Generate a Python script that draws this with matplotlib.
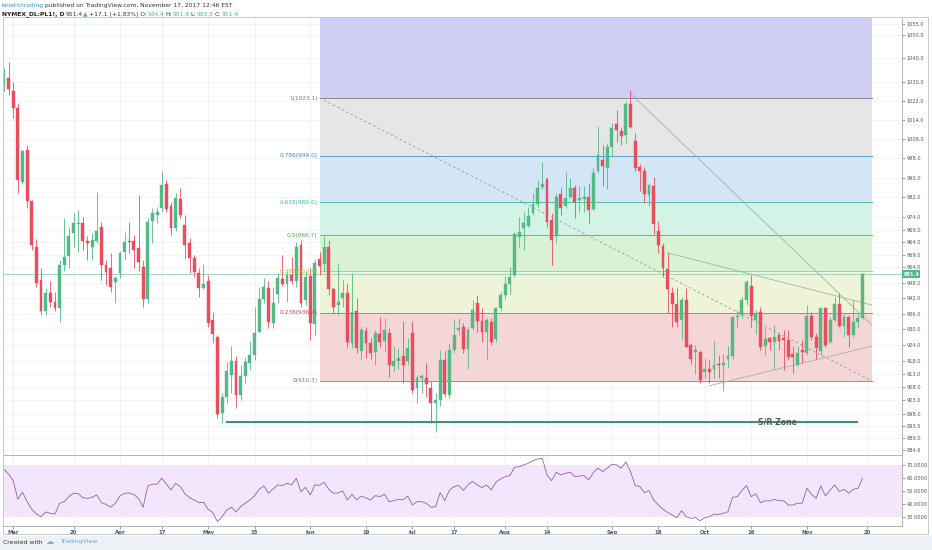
import numpy as np
import pandas as pd
import matplotlib
matplotlib.use('Agg')
import matplotlib.pyplot as plt
from matplotlib.ticker import FixedLocator, NullLocator, FixedFormatter
from matplotlib.patches import Rectangle

# trading days (NYMEX holidays removed)
holidays = ['2017-04-14', '2017-05-29', '2017-07-04', '2017-09-04']
dates = pd.bdate_range('2017-02-27', '2017-12-01', freq='C', holidays=holidays)

opens = [1028.6, 1031.6, 1026.1, 1019.0, 988.2, 1001.4, 980.5, 962.1, 949.1, 937.0,
         944.0, 940.5, 938.2, 955.0, 958.5, 967.6, 971.3, 971.7, 964.5, 962.1,
         964.5, 969.9, 955.0, 953.8, 948.3, 951.6, 960.1, 964.5, 964.5, 961.7,
         954.2, 941.7, 972.5, 974.9, 977.7, 987.4, 978.5, 969.5, 981.3, 970.7,
         963.7, 957.8, 951.6, 946.0, 948.7, 933.6, 926.9, 898.4, 904.4, 912.7,
         917.9, 905.1, 912.3, 916.9, 920.2, 928.9, 941.7, 946.0, 932.4, 943.6,
         949.5, 947.5, 951.2, 948.7, 962.9, 941.3, 950.8, 932.0, 957.4, 955.4,
         962.1, 945.6, 939.4, 942.1, 944.0, 924.7, 937.0, 921.7, 929.3, 924.7,
         921.3, 928.1, 925.5, 928.5, 916.1, 917.9, 919.8, 917.9, 928.5, 907.8,
         911.6, 911.6, 907.8, 902.1, 903.2, 918.3, 905.1, 922.1, 929.6, 930.8,
         922.5, 930.4, 940.1, 933.2, 928.9, 932.8, 926.3, 938.2, 943.2, 947.5,
         951.2, 965.9, 969.5, 970.3, 975.7, 979.3, 986.2, 989.5, 972.9, 966.3,
         983.4, 978.5, 982.1, 985.8, 980.9, 981.3, 982.1, 977.3, 992.7, 997.4,
         993.9, 1002.6, 1012.3, 1009.3, 1007.6, 1020.6, 1005.2, 994.3, 992.7, 983.0,
         986.6, 968.4, 962.5, 953.4, 944.0, 939.8, 933.6, 941.3, 924.0, 921.3,
         921.3, 913.8, 914.9, 914.9, 916.8, 916.4, 918.7, 919.8, 934.7, 935.5,
         941.3, 946.8, 933.6, 936.6, 923.6, 926.6, 925.1, 927.7, 926.6, 925.9,
         920.6, 916.4, 922.1, 920.9, 935.1, 927.0, 921.7, 938.2, 925.1, 933.6,
         939.8, 931.2, 934.7, 927.7, 932.8, 934.4]
highs = [1036.0, 1038.4, 1030.0, 1021.0, 1001.4, 1003.4, 981.0, 965.3, 953.8, 946.0,
         948.7, 944.4, 957.0, 973.7, 969.9, 975.7, 977.0, 974.1, 966.3, 967.6,
         984.2, 972.1, 957.0, 959.7, 950.7, 960.5, 968.0, 972.1, 967.0, 983.0,
         957.0, 973.7, 977.7, 978.1, 992.7, 989.1, 980.1, 983.8, 985.8, 974.9,
         965.7, 959.0, 953.8, 955.4, 951.2, 936.6, 927.7, 905.9, 917.6, 923.5,
         919.8, 916.4, 919.5, 925.5, 938.6, 946.3, 949.9, 948.7, 946.3, 951.9,
         958.9, 952.4, 958.1, 964.1, 965.0, 952.4, 953.8, 957.4, 960.1, 966.3,
         965.0, 946.3, 955.8, 949.1, 947.9, 951.9, 942.1, 930.8, 930.8, 926.6,
         929.6, 934.7, 934.3, 930.4, 923.6, 922.8, 933.2, 926.6, 933.2, 912.7,
         913.1, 917.2, 910.4, 905.9, 922.0, 921.7, 924.7, 934.0, 934.3, 932.4,
         930.8, 941.3, 943.3, 938.2, 934.3, 934.3, 938.6, 944.4, 950.7, 954.2,
         967.9, 974.1, 976.1, 978.1, 983.8, 989.1, 996.4, 990.3, 975.7, 983.8,
         985.8, 992.3, 989.9, 987.0, 986.6, 986.6, 987.8, 993.9, 1011.5, 1003.4,
         1004.3, 1012.7, 1018.0, 1011.0, 1021.8, 1026.5, 1008.4, 995.5, 994.3, 987.4,
         990.3, 972.5, 963.7, 959.7, 946.3, 946.0, 942.5, 946.0, 924.7, 924.0,
         921.7, 919.1, 918.3, 925.5, 920.2, 920.6, 923.6, 935.1, 937.4, 942.5,
         949.1, 951.2, 937.4, 938.6, 930.4, 927.0, 931.6, 928.5, 929.6, 929.6,
         923.6, 923.6, 925.9, 939.4, 936.6, 928.5, 938.6, 938.6, 934.7, 942.5,
         944.0, 935.9, 935.5, 941.3, 936.6, 951.9]
lows = [1026.0, 1024.4, 1014.7, 983.8, 987.4, 977.7, 960.9, 946.3, 935.5, 935.5,
        938.6, 937.0, 932.8, 952.4, 953.8, 962.1, 960.1, 961.0, 957.0, 957.0,
        963.7, 949.1, 947.1, 944.4, 940.1, 949.9, 957.0, 959.7, 953.8, 952.4,
        938.6, 940.0, 963.7, 971.7, 976.1, 976.1, 966.7, 968.4, 973.7, 957.4,
        951.6, 950.4, 942.5, 945.6, 930.8, 924.7, 896.5, 894.6, 902.1, 905.9,
        900.3, 903.2, 909.6, 914.6, 918.3, 928.9, 940.1, 930.4, 930.4, 940.1,
        946.8, 940.5, 947.5, 946.3, 938.6, 939.4, 925.9, 927.7, 951.2, 952.4,
        943.3, 936.2, 935.5, 938.6, 923.2, 922.8, 920.9, 918.3, 919.1, 918.7,
        916.4, 923.2, 921.3, 911.8, 914.2, 914.9, 909.6, 916.4, 905.9, 902.1,
        905.9, 904.4, 894.6, 891.3, 901.0, 904.4, 904.0, 921.0, 927.7, 920.9,
        914.9, 929.6, 928.9, 925.1, 918.3, 924.0, 925.1, 937.0, 941.7, 943.6,
        950.4, 962.1, 961.0, 969.9, 974.9, 978.1, 985.4, 969.9, 955.0, 963.7,
        974.9, 977.7, 981.7, 973.7, 976.1, 976.1, 971.7, 976.9, 991.9, 986.6,
        985.4, 998.6, 1004.7, 1003.4, 1004.3, 1010.5, 992.7, 984.6, 979.7, 978.5,
        967.1, 959.7, 950.4, 936.2, 930.8, 930.8, 925.9, 923.2, 916.8, 913.0,
        909.6, 911.5, 909.6, 911.5, 911.5, 906.6, 915.3, 918.7, 930.8, 934.3,
        939.4, 930.8, 928.1, 922.1, 920.2, 922.1, 914.9, 922.1, 914.6, 918.3,
        913.4, 916.0, 917.2, 920.2, 925.9, 918.7, 920.2, 923.2, 924.7, 932.8,
        930.8, 927.0, 923.2, 927.0, 930.4, 933.8]
closes = [1031.6, 1026.9, 1019.0, 989.1, 1001.0, 980.5, 962.9, 947.9, 937.0, 944.0,
          940.5, 938.2, 955.0, 958.1, 966.3, 971.7, 971.8, 964.5, 963.7, 965.0,
          968.4, 955.0, 952.0, 946.3, 949.9, 959.7, 964.1, 964.1, 961.0, 956.3,
          941.7, 972.1, 975.7, 976.1, 987.0, 977.3, 969.5, 981.7, 974.9, 962.9,
          957.8, 952.0, 946.0, 947.5, 932.4, 928.1, 898.0, 904.4, 914.2, 917.9,
          905.1, 912.3, 917.6, 920.2, 928.5, 941.7, 946.3, 932.8, 940.1, 949.9,
          947.5, 951.2, 948.7, 962.1, 940.1, 950.4, 932.4, 955.8, 954.6, 962.1,
          945.6, 938.6, 940.5, 944.0, 925.1, 936.6, 922.8, 929.6, 924.7, 920.9,
          928.5, 925.1, 929.6, 916.4, 917.9, 919.1, 916.4, 922.8, 907.0, 911.6,
          912.3, 909.3, 902.1, 903.2, 918.3, 905.5, 922.1, 927.7, 930.4, 922.5,
          929.6, 937.4, 933.2, 928.9, 933.6, 925.1, 938.2, 943.2, 947.5, 950.4,
          967.1, 967.9, 971.7, 974.5, 979.3, 985.8, 987.4, 972.1, 965.0, 982.1,
          977.7, 981.7, 985.8, 980.1, 981.7, 982.1, 976.9, 991.9, 999.4, 994.6,
          1002.6, 1010.6, 1009.7, 1007.2, 1020.6, 1010.9, 993.9, 992.7, 983.4, 987.0,
          971.3, 962.9, 953.8, 945.6, 939.8, 932.8, 941.3, 923.2, 918.7, 922.1,
          910.6, 914.9, 913.8, 916.4, 916.4, 917.2, 919.8, 934.7, 935.1, 941.3,
          948.3, 935.1, 936.2, 923.2, 926.3, 925.1, 927.0, 925.5, 925.9, 919.4,
          919.4, 921.0, 921.3, 935.1, 927.0, 922.8, 938.2, 924.0, 933.6, 939.8,
          931.2, 934.7, 927.7, 932.8, 934.3, 951.4]
rsi = [66.7, 63.1, 58.0, 43.8, 49.2, 42.0, 36.2, 32.6, 30.5, 34.1,
       33.1, 32.6, 40.8, 42.0, 45.8, 48.4, 48.1, 45.0, 44.5, 45.3,
       47.1, 41.2, 39.9, 37.7, 40.8, 46.3, 48.4, 48.6, 47.4, 44.5,
       37.7, 54.0, 55.3, 55.3, 59.8, 55.3, 50.9, 56.0, 53.5, 47.9,
       45.0, 43.3, 41.2, 41.5, 36.2, 33.6, 26.8, 30.5, 35.6, 37.7,
       34.1, 38.2, 40.8, 43.3, 46.3, 51.4, 54.0, 48.4, 51.7, 54.8,
       54.3, 56.0, 54.8, 59.8, 49.6, 52.9, 47.1, 54.8, 54.5, 56.8,
       51.4, 48.4, 48.6, 50.2, 43.3, 47.6, 43.3, 46.3, 44.8, 43.3,
       46.6, 45.8, 47.6, 42.0, 42.7, 43.8, 43.3, 46.3, 39.4, 42.0,
       42.0, 40.8, 37.7, 38.2, 48.9, 42.7, 50.9, 53.5, 54.3, 50.6,
       55.0, 57.4, 54.8, 52.7, 54.8, 50.9, 56.8, 59.3, 61.1, 61.9,
       68.2, 68.7, 70.0, 71.3, 73.3, 74.6, 75.2, 62.4, 58.0, 64.4,
       62.4, 63.7, 64.4, 61.1, 61.6, 61.9, 58.5, 64.2, 67.6, 65.0,
       67.6, 70.5, 70.0, 67.6, 72.1, 65.0, 54.3, 53.5, 48.9, 50.4,
       43.3, 39.4, 36.1, 33.8, 31.8, 29.7, 35.1, 30.5, 29.2, 29.9,
       27.4, 29.7, 30.5, 32.3, 32.3, 33.1, 34.3, 45.3, 45.8, 50.4,
       54.3, 45.8, 47.9, 41.2, 42.7, 42.5, 43.8, 42.7, 42.7, 39.4,
       39.4, 40.8, 40.8, 52.2, 47.6, 44.5, 54.0, 46.3, 50.9, 54.8,
       49.6, 51.4, 48.4, 51.4, 52.2, 59.8]

tick_dates = ['2017-03-01', '2017-03-20', '2017-04-03', '2017-04-17', '2017-05-01',
              '2017-05-15', '2017-06-01', '2017-06-19', '2017-07-03', '2017-07-17',
              '2017-08-01', '2017-08-14', '2017-09-01', '2017-09-18', '2017-10-02',
              '2017-10-16', '2017-11-01', '2017-11-20']
tick_labels = ['Mar', '20', 'Apr', '17', 'May', '15', 'Jun', '19', 'Jul', '17',
               'Aug', '14', 'Sep', '18', 'Oct', '16', 'Nov', '20']

price_ticks = [1055.0, 1050.0, 1040.0, 1030.0, 1022.0, 1014.0, 1006.0, 998.0, 990.0,
               982.0, 974.0, 969.0, 964.0, 959.0, 954.0, 948.0, 942.0, 936.0, 930.0,
               924.0, 918.0, 913.0, 908.0, 903.0, 898.0, 893.5, 889.0, 884.6]
rsi_ticks = [70, 60, 50, 40, 30]

fib_ratios = ['1', '0.786', '0.618', '0.5', '0.382', '0.236', '0']
fib_levels = [1023.1, 999.0, 980.0, 966.7, 952.4, 936.4, 910.3]
fib_line_colors = ['#8c8c8c', '#5b9bd5', '#4fc3a1', '#66bb6a', '#c9c75a', '#d9716f', '#a08c8c']
fib_text_colors = ['#808080', '#3d8fd6', '#3dbd98', '#4cb84c', '#bcbc36', '#d04848', '#808080']
fib_fills = ['#cfcff4', '#e6e6e6', '#d3e6f5', '#d3f3e6', '#d9f2d3', '#eef4d8', '#f5d6d6']
fib_start, fib_end = '2017-06-05', '2017-11-21'

def pos(d):
    return int(dates.searchsorted(pd.Timestamp(d)))

n = len(closes)
x = np.arange(n)
o = np.array(opens); h = np.array(highs); l = np.array(lows); c = np.array(closes)

W, H = 932, 550
fig = plt.figure(figsize=(W / 100, H / 100), dpi=100)
fig.patch.set_facecolor('white')

def fx(px):
    return px / W

def fy(py):
    return 1 - py / H

ax = fig.add_axes([fx(3), fy(455), fx(902) - fx(3), fy(17) - fy(455)])
ax2 = fig.add_axes([fx(3), fy(526), fx(902) - fx(3), fy(455) - fy(526)], sharex=ax)

up, down = '#53b987', '#eb4d5c'
spine_c = '#a3a7ad'
lab_c = '#50555e'

# ---- main price panel
ax.set_yscale('log')
ymin, ymax = 882.9, 1057.9
ax.set_ylim(ymin, ymax)
ax.set_xlim(-0.2, 193.5)

tick_pos = [pos(d) for d in tick_dates]
for tp in tick_pos:
    ax.axvline(tp, color='#eef0f3', lw=0.6, zorder=0)
    ax2.axvline(tp, color='#eef0f3', lw=0.6, zorder=0)
for pt in price_ticks:
    ax.axhline(pt, color='#f2f3f5', lw=0.6, zorder=0)

# fib zones
x0, x1 = pos(fib_start), pos(fib_end)
bounds = [ymax] + fib_levels
for i in range(len(fib_levels)):
    ax.fill_between([x0, x1], bounds[i + 1], bounds[i], color=fib_fills[i], lw=0, zorder=1)
for lev, rat, lc, tc in zip(fib_levels, fib_ratios, fib_line_colors, fib_text_colors):
    ax.plot([x0, x1], [lev, lev], color=lc, lw=0.7, zorder=2)
    ax.text(x0 - 0.4, lev, f'{rat}({lev:.1f})', color=tc, fontsize=4.2,
            ha='right', va='center', zorder=6)
ax.plot([x0, x1], [fib_levels[0], fib_levels[-1]], color='#9a9a9a', lw=0.6,
        ls=(0, (3, 3)), zorder=3)

# current price line
last = closes[-1]
ax.axhline(last, color='#8fd3b8', lw=0.6, zorder=2)

# trend lines
ax.plot([135, 187], [1025.0, 931.6], color='#a3b3a8', lw=0.6, zorder=3)
ax.plot([143, 187], [959.7, 939.3], color='#a3b3a8', lw=0.6, zorder=3)
ax.plot([152, 187], [908.5, 923.5], color='#a3b3a8', lw=0.6, zorder=3)

# support / resistance zone
sr_level = 895.1
ax.plot([48.1, 183.8], [sr_level, sr_level], color='#2f8f7f', lw=1.4, zorder=4)
ax.text(166.6, sr_level, 'S/R Zone', color='#4d5b5b', fontsize=5.6, weight='bold',
        ha='center', va='center', zorder=5)

# candles
cols = np.where(c >= o, up, down)
ax.vlines(x, l, h, colors=cols, lw=0.6, zorder=4)
bottoms = np.minimum(o, c)
heights = np.maximum(np.abs(c - o), 0.15)
ax.bar(x, heights, bottom=bottoms, width=0.62, color=cols, edgecolor=cols, lw=0.3, zorder=5)

ax.yaxis.tick_right()
ax.yaxis.set_major_locator(FixedLocator(price_ticks))
ax.yaxis.set_major_formatter(FixedFormatter([f'{p:.1f}' for p in price_ticks]))
ax.yaxis.set_minor_locator(NullLocator())
ax.tick_params(axis='y', labelsize=3.6, colors=lab_c, length=2, width=0.4, pad=1.5)
ax.tick_params(axis='x', bottom=False, labelbottom=False)
for s in ax.spines.values():
    s.set_color(spine_c)
    s.set_linewidth(0.6)

ax.text(1.0015, last, f'{last:.1f}', transform=ax.get_yaxis_transform(), fontsize=3.6,
        color='white', weight='bold', ha='left', va='center', zorder=10, clip_on=False,
        bbox=dict(boxstyle='square,pad=0.25', fc=up, ec=up, lw=0))

# ---- RSI panel
ax2.set_ylim(23.4, 77.6)
ax2.axhspan(30, 70, color='#f2e5fc', lw=0, zorder=0)
ax2.plot(x, rsi, color='#9162a6', lw=0.6, zorder=3)
ax2.yaxis.tick_right()
ax2.set_yticks(rsi_ticks)
ax2.set_yticklabels([f'{v:.4f}' for v in rsi_ticks])
ax2.tick_params(axis='y', labelsize=3.6, colors=lab_c, length=2, width=0.4, pad=1.5)
ax2.set_xticks(tick_pos)
ax2.set_xticklabels(tick_labels)
ax2.tick_params(axis='x', labelsize=3.8, colors=lab_c, length=2, width=0.4, pad=1.2)
for lbl in ax2.get_xticklabels():
    lbl.set_fontweight('bold')
for s in ax2.spines.values():
    s.set_color(spine_c)
    s.set_linewidth(0.6)

# outer frame and footer
fig.add_artist(Rectangle((fx(3), fy(534)), fx(928) - fx(3), fy(17) - fy(534),
                         transform=fig.transFigure, fill=False, ec='#c6cad0', lw=0.7))
fig.add_artist(Rectangle((0, 0), 1, fy(536), transform=fig.transFigure,
                         fc='#eef2f6', ec='none', zorder=-5))
fig.text(fx(3), fy(542), 'Created with', fontsize=4.4, color='#333333', va='center')
fig.text(fx(46), fy(542), '\u2601', fontsize=6, color='#69b3e7', va='center')
fig.text(fx(61), fy(542), 'TradingView', fontsize=4.4, color='#5aa6e8', va='center')

# header lines
def chain(parts, x0, y0):
    s, col, w = parts[0]
    t = fig.text(x0, y0, s, color=col, fontsize=4.3, weight=w, va='baseline')
    for s, col, w in parts[1:]:
        t = ax.annotate(s, xy=(1, 0), xycoords=t, xytext=(0.6, 0), textcoords='offset points',
                        color=col, fontsize=4.3, weight=w, va='bottom', ha='left',
                        annotation_clip=False)

chain([('kinetictrading', '#3c8dd0', 'normal'),
       ('published on TradingView.com, November 17, 2017 12:46 EST', '#333333', 'normal')],
      fx(2), fy(7))
chg = closes[-1] - closes[-2]
chain([('NYMEX_DL:PL1!, D', '#222222', 'bold'),
       (f'{last:.1f}', '#333333', 'normal'),
       ('\u25b2', up, 'normal'),
       (f'+{chg:.1f} (+{chg / closes[-2] * 100:.2f}%) O:', '#333333', 'normal'),
       (f'{opens[-1]:.1f}', up, 'normal'),
       ('H:', '#333333', 'normal'),
       (f'{highs[-1]:.1f}', up, 'normal'),
       ('L:', '#333333', 'normal'),
       (f'{lows[-1]:.1f}', up, 'normal'),
       ('C:', '#333333', 'normal'),
       (f'{closes[-1]:.1f}', up, 'normal')],
      fx(2), fy(15))

fig.savefig('out.png', dpi=100)
